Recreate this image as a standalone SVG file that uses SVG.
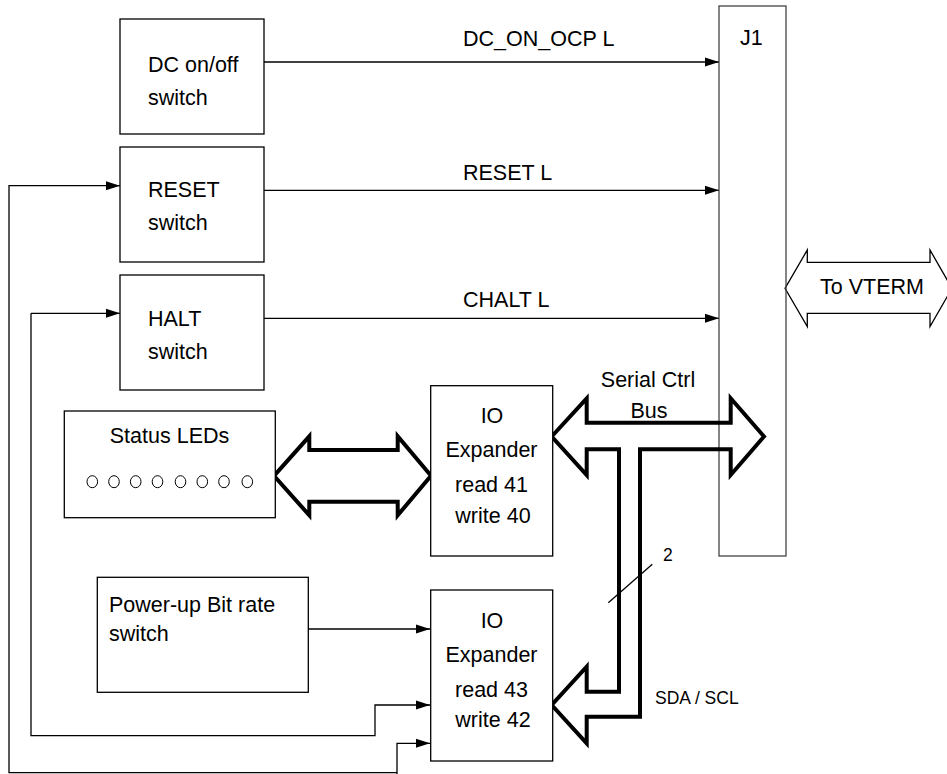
<svg xmlns="http://www.w3.org/2000/svg" width="947" height="774" viewBox="0 0 947 774">
<style>
.box{fill:#fff;stroke:#000;stroke-width:1.3}
.t{font-family:"Liberation Sans",Arial,sans-serif;font-size:21.5px;fill:#000}
.s{font-family:"Liberation Sans",Arial,sans-serif;font-size:17.5px;fill:#000}
.c{text-anchor:middle}
.ln{fill:none;stroke:#000;stroke-width:1.3}
.bus{fill:none;stroke:#000;stroke-width:4;stroke-linejoin:miter}
.led{fill:none;stroke:#000;stroke-width:1}
</style>
<defs>
<marker id="ah" viewBox="0 0 14 10" refX="14" refY="5" markerWidth="14" markerHeight="10" markerUnits="userSpaceOnUse" orient="auto">
<path d="M0,0.5 L14,5 L0,9.5 Z" fill="#000"/>
</marker>
</defs>
<rect width="947" height="774" fill="#fff"/>

<g id="connectors">
<line class="ln" x1="264" y1="62" x2="719" y2="62" marker-end="url(#ah)"/>
<line class="ln" x1="264" y1="190.3" x2="719" y2="190.3" marker-end="url(#ah)"/>
<line class="ln" x1="264" y1="318.3" x2="719" y2="318.3" marker-end="url(#ah)"/>
<polyline class="ln" points="397,774 397,743.3 430,743.3" marker-end="url(#ah)"/>
<polyline class="ln" points="397,772.7 9,772.7 9,185.7 120,185.7" marker-end="url(#ah)" stroke="#444"/>
<polyline class="ln" points="31,313.3 120,313.3" marker-end="url(#ah)"/>
<polyline class="ln" points="31,313.3 31,735.7 375,735.7 375,705 430,705" marker-end="url(#ah)"/>
<line class="ln" x1="308" y1="629" x2="430" y2="629" marker-end="url(#ah)"/>
<line class="ln" x1="608.3" y1="602.7" x2="652.3" y2="564.3" stroke-width="1"/>
<path class="bus" d="M274,475.8 L309.3,436.3 L309.3,450 L397.7,450 L397.7,436.3 L431,475.8 L397.7,515.3 L397.7,501.7 L309.3,501.7 L309.3,515.3 Z"/>
<path id="vterm" class="ln" d="M785,288.3 L807.3,250 L807.3,262.3 L930,262.3 L930,250 L952,288.3 L930,326.6 L930,313.3 L807.3,313.3 L807.3,326.6 Z"/>
</g>

<g id="j1">
<rect x="719" y="6" width="67" height="550" fill="none" stroke="#444" stroke-width="1.3"/>
<text class="t" x="740" y="45">J1</text>
</g>

<g id="bus">
<path class="bus" d="M551.7,436.5 L586.7,398.3 L586.7,422.7 L730.7,422.7 L730.7,398.3 L764,436.5 L730.7,475 L730.7,449.3 L640,449.3 L640,716.7 L586.7,716.7 L586.7,743.3 L551.7,705 L586.7,666.7 L586.7,691.7 L619,691.7 L619,449.3 L586.7,449.3 L586.7,475 Z"/>
</g>

<g id="labels">
<text class="t" x="463" y="45.5">DC_ON_OCP L</text>
<text class="t" x="463" y="180">RESET L</text>
<text class="t" x="463" y="307.3">CHALT L</text>
<text class="t c" x="648" y="386.7">Serial Ctrl</text>
<text class="t c" x="649" y="418.3">Bus</text>
<text class="s" x="663" y="561">2</text>
<text class="s" x="655" y="704">SDA / SCL</text>
<text class="t" x="820" y="294.3">To VTERM</text>
</g>

<g id="dc">
<rect class="box" x="120" y="19" width="144" height="115"/>
<text class="t" x="148" y="71.7">DC on/off</text>
<text class="t" x="148" y="105">switch</text>
</g>
<g id="reset">
<rect class="box" x="120" y="147" width="144" height="115"/>
<text class="t" x="148" y="196.7">RESET</text>
<text class="t" x="148" y="230">switch</text>
</g>
<g id="halt">
<rect class="box" x="120" y="275" width="144" height="115"/>
<text class="t" x="148" y="326">HALT</text>
<text class="t" x="148" y="359.3">switch</text>
</g>
<g id="leds">
<rect class="box" x="64.3" y="411" width="211" height="106.7"/>
<text class="t c" x="169.5" y="443.3">Status LEDs</text>
<ellipse class="led" cx="92.3" cy="481.7" rx="5.3" ry="6"/>
<ellipse class="led" cx="114" cy="481.7" rx="5.3" ry="6"/>
<ellipse class="led" cx="135.7" cy="481.7" rx="5.3" ry="6"/>
<ellipse class="led" cx="157.5" cy="481.7" rx="5.3" ry="6"/>
<ellipse class="led" cx="180.5" cy="481.7" rx="5.3" ry="6"/>
<ellipse class="led" cx="202.3" cy="481.7" rx="5.3" ry="6"/>
<ellipse class="led" cx="224" cy="481.7" rx="5.3" ry="6"/>
<ellipse class="led" cx="247.3" cy="481.7" rx="5.3" ry="6"/>
</g>
<g id="io1">
<rect class="box" x="430.7" y="385.7" width="122" height="170.3"/>
<text class="t c" x="492" y="423.3">IO</text>
<text class="t c" x="491.5" y="457.3">Expander</text>
<text class="t c" x="491.5" y="491.7">read 41</text>
<text class="t c" x="493" y="522.7">write 40</text>
</g>
<g id="powerup">
<rect class="box" x="97.3" y="577.3" width="211" height="115"/>
<text class="t" x="109" y="611.7">Power-up Bit rate</text>
<text class="t" x="109" y="641">switch</text>
</g>
<g id="io2">
<rect class="box" x="430.7" y="590" width="122" height="171"/>
<text class="t c" x="492" y="628.3">IO</text>
<text class="t c" x="491.5" y="661.7">Expander</text>
<text class="t c" x="491.5" y="696.7">read 43</text>
<text class="t c" x="493" y="726.7">write 42</text>
</g>
</svg>
